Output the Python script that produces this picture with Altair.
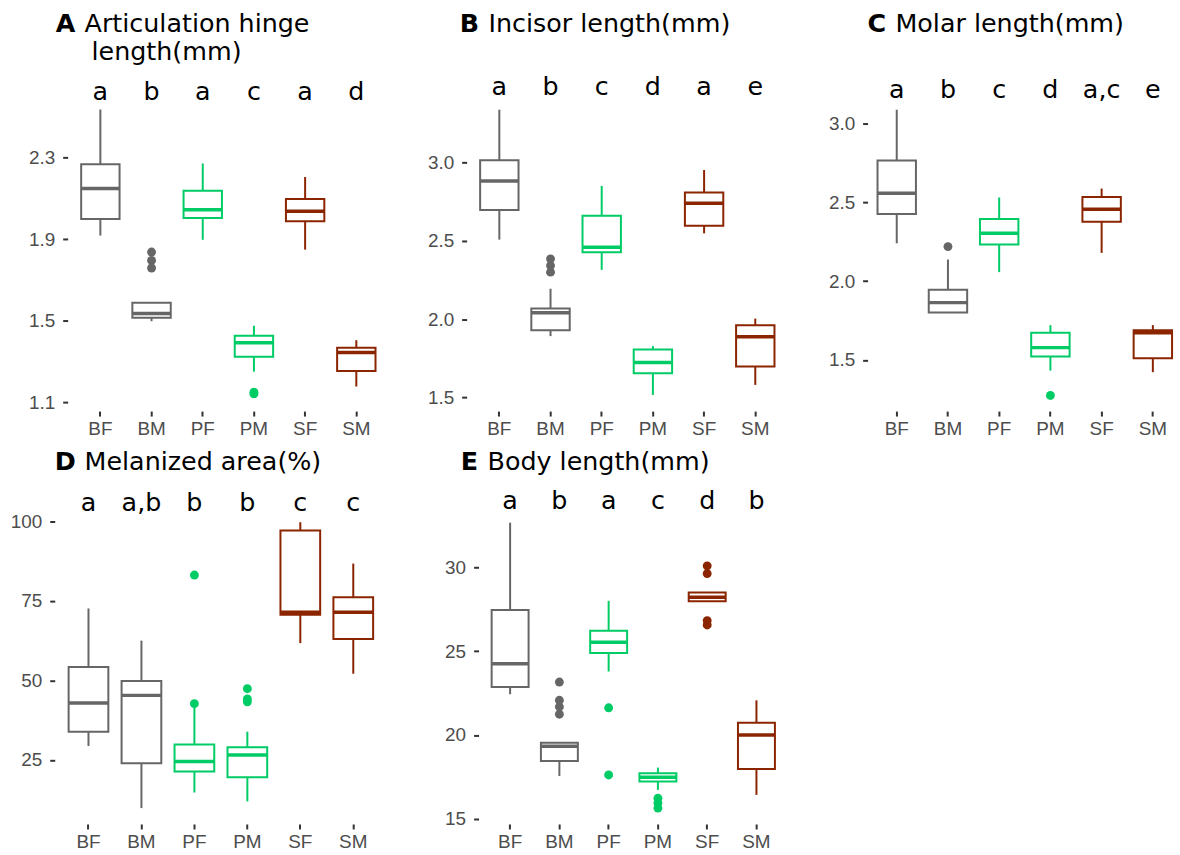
import altair as alt
import pandas as pd

cats = ["BF", "BM", "PF", "PM", "SF", "SM"]
colors = ["#666666", "#666666", "#00CC66", "#00CC66", "#8B2500", "#8B2500"]

# ---- Panel A: Articulation hinge length (mm)
a_q1 = [1.999, 1.515, 2.004, 1.324, 1.988, 1.254]
a_med = [2.149, 1.536, 2.044, 1.393, 2.037, 1.345]
a_q3 = [2.267, 1.588, 2.137, 1.427, 2.097, 1.368]
a_lo = [1.918, 1.498, 1.897, 1.251, 1.849, 1.178]
a_hi = [2.536, 1.588, 2.271, 1.476, 2.205, 1.405]
a_out_cat = ["BM", "BM", "BM", "PM", "PM"]
a_out_val = [1.837, 1.796, 1.759, 1.142, 1.150]
a_letters = ["a", "b", "a", "c", "a", "d"]
a_ticks = [1.1, 1.5, 1.9, 2.3]

# ---- Panel B: Incisor length (mm)
b_q1 = [2.697, 1.929, 2.427, 1.653, 2.597, 1.696]
b_med = [2.883, 2.041, 2.459, 1.723, 2.741, 1.887]
b_q3 = [3.015, 2.067, 2.660, 1.806, 2.809, 1.961]
b_lo = [2.508, 1.891, 2.315, 1.515, 2.548, 1.579]
b_hi = [3.339, 2.194, 2.851, 1.827, 2.953, 2.003]
b_out_cat = ["BM", "BM", "BM"]
b_out_val = [2.385, 2.342, 2.300]
b_letters = ["a", "b", "c", "d", "a", "e"]
b_ticks = [1.5, 2.0, 2.5, 3.0]

# ---- Panel C: Molar length (mm)
c_q1 = [2.427, 1.801, 2.233, 1.521, 2.378, 1.510]
c_med = [2.559, 1.864, 2.305, 1.578, 2.458, 1.673]
c_q3 = [2.768, 1.946, 2.395, 1.672, 2.536, 1.689]
c_lo = [2.241, 1.800, 2.058, 1.432, 2.180, 1.422]
c_hi = [3.090, 2.138, 2.532, 1.721, 2.589, 1.721]
c_out_cat = ["BM", "PM"]
c_out_val = [2.220, 1.274]
c_letters = ["a", "b", "c", "d", "a,c", "e"]
c_ticks = [1.5, 2.0, 2.5, 3.0]

# ---- Panel D: Melanized area (%)
d_q1 = [33.9, 24.0, 21.4, 19.6, 70.6, 63.0]
d_med = [42.9, 45.3, 24.5, 26.6, 71.4, 71.4]
d_q3 = [54.2, 49.8, 29.9, 29.0, 97.1, 76.1]
d_lo = [29.4, 9.9, 14.8, 12.0, 61.7, 52.1]
d_hi = [72.6, 62.5, 42.0, 33.9, 99.7, 86.7]
d_out_cat = ["PF", "PF", "PM", "PM", "PM"]
d_out_val = [83.1, 42.7, 47.4, 44.2, 43.3]
d_letters = ["a", "a,b", "b", "b", "c", "c"]
d_ticks = [25, 50, 75, 100]

# ---- Panel E: Body length (mm)
e_q1 = [22.87, 18.44, 24.90, 17.22, 27.98, 17.97]
e_med = [24.25, 19.33, 25.54, 17.47, 28.22, 19.99]
e_q3 = [27.46, 19.54, 26.23, 17.71, 28.51, 20.73]
e_lo = [22.43, 17.55, 23.79, 16.72, 27.98, 16.42]
e_hi = [32.68, 19.54, 28.01, 18.05, 28.51, 22.07]
e_out_cat = ["BM", "BM", "BM", "BM", "PF", "PF", "PM", "PM", "PM", "SF", "SF", "SF", "SF"]
e_out_val = [23.16, 22.07, 21.68, 21.24, 21.62, 17.61, 16.22, 15.93, 15.63, 30.10, 29.64, 26.83, 26.57]
e_letters = ["a", "b", "a", "c", "d", "b"]
e_ticks = [15, 20, 25, 30]

TXT_FONT = "DejaVu Sans"
AX_FONT = "Liberation Sans"
H = 337
TFS = 25.5
LFS = 19


def panel(q1, med, q3, lo, hi, out_cat, out_val, letters, letter_y, domain, ticks, fmt,
          width, po, minext, tag, title1, title2, tag_dx, title_dx, title_dy):
    df = pd.DataFrame({"g": cats, "q1": q1, "med": med, "q3": q3, "lo": lo, "hi": hi,
                       "lab": letters, "ly": [letter_y] * len(cats)})
    odf = pd.DataFrame({"g": out_cat, "v": out_val})
    step = width / (len(cats) + 2 * po)
    bw = 0.75 * step

    xaxis = alt.Axis(title=None, labelAngle=0, domain=False, grid=False, ticks=True,
                     tickSize=5, tickWidth=2, tickColor="#333333", labelFont=AX_FONT,
                     labelFontSize=LFS, labelColor="#4D4D4D", labelPadding=4, offset=1)
    xenc = alt.X("g:N", sort=cats,
                 scale=alt.Scale(type="band", domain=cats, paddingInner=0, paddingOuter=po),
                 axis=xaxis)
    yscale = alt.Scale(domain=domain, nice=False, zero=False)
    yaxis = alt.Axis(title=None, values=ticks, format=fmt, minExtent=minext, grid=False,
                     domain=False, ticks=True, tickSize=5, tickWidth=2, tickColor="#333333",
                     labelFont=AX_FONT, labelFontSize=LFS, labelColor="#4D4D4D",
                     labelPadding=8, offset=2)
    cscale = alt.Scale(domain=cats, range=colors)
    col = alt.Color("g:N", scale=cscale, legend=None)

    base = alt.Chart(df)
    whisk = base.mark_rule(strokeWidth=2).encode(
        x=xenc, y=alt.Y("lo:Q", scale=yscale, axis=yaxis), y2="hi:Q", color=col)
    box = base.mark_bar(width=bw, fill="white", strokeWidth=2).encode(
        x=xenc, y=alt.Y("q1:Q", scale=yscale, axis=yaxis), y2="q3:Q",
        stroke=alt.Stroke("g:N", scale=cscale, legend=None))
    medl = base.mark_tick(thickness=3.5, size=bw, opacity=1).encode(
        x=xenc, y=alt.Y("med:Q", scale=yscale, axis=yaxis), color=col)
    outl = alt.Chart(odf).mark_circle(size=80, opacity=1).encode(
        x=xenc, y=alt.Y("v:Q", scale=yscale, axis=yaxis), color=col)
    lets = base.mark_text(font=TXT_FONT, fontSize=TFS, color="black", baseline="alphabetic").encode(
        x=xenc, y=alt.Y("ly:Q", scale=yscale, axis=yaxis), text="lab:N")
    tagt = alt.Chart(pd.DataFrame({"t": [tag]})).mark_text(
        font=TXT_FONT, fontSize=TFS, fontWeight="bold", color="black", align="left",
        baseline="alphabetic").encode(x=alt.value(tag_dx), y=alt.value(title_dy), text="t:N")
    layers = [whisk, box, medl, outl, lets, tagt]
    layers.append(alt.Chart(pd.DataFrame({"t": [title1]})).mark_text(
        font=TXT_FONT, fontSize=TFS, color="black", align="left", baseline="alphabetic").encode(
        x=alt.value(title_dx), y=alt.value(title_dy), text="t:N"))
    if title2:
        layers.append(alt.Chart(pd.DataFrame({"t": [title2]})).mark_text(
            font=TXT_FONT, fontSize=TFS, color="black", align="left", baseline="alphabetic").encode(
            x=alt.value(title_dx + 7), y=alt.value(title_dy + 28), text="t:N"))
    return alt.layer(*layers).properties(width=width, height=H)


def blank():
    return alt.Chart(pd.DataFrame({"z": [0]})).mark_rule(opacity=0, strokeWidth=0).encode(
        x=alt.value(0), y=alt.value(0), y2=alt.value(1)).properties(width=1, height=1)


pA = panel(a_q1, a_med, a_q3, a_lo, a_hi, a_out_cat, a_out_val, a_letters, 2.584,
           [1.0624, 2.706], a_ticks, ".1f", 319, 0.1, 60, "A",
           "Articulation hinge", "length(mm)", -14, 15, -43)
pB = panel(b_q1, b_med, b_q3, b_lo, b_hi, b_out_cat, b_out_val, b_letters, 3.434,
           [1.418, 3.562], b_ticks, ".1f", 319, 0.1, 80, "B",
           "Incisor length(mm)", None, -9, 20, -43)
pC = panel(c_q1, c_med, c_q3, c_lo, c_hi, c_out_cat, c_out_val, c_letters, 3.166,
           [1.181, 3.312], c_ticks, ".1f", 312, 0.03, 82, "C",
           "Molar length(mm)", None, -2, 26, -43)
pD = panel(d_q1, d_med, d_q3, d_lo, d_hi, d_out_cat, d_out_val, d_letters, 103.3,
           [5.22, 110.53], d_ticks, "d", 330, 0.1, 47, "D",
           "Melanized area(%)", None, -2, 28, -18)
pE = panel(e_q1, e_med, e_q3, e_lo, e_hi, e_out_cat, e_out_val, e_letters, 33.47,
           [14.74, 34.77], e_ticks, "d", 307, 0.1, 94, "E",
           "Body length(mm)", None, -20, 7, -18)

top = alt.hconcat(blank(), pA, pB, pC, spacing=0)
bottom = alt.hconcat(blank(), pD, pE, spacing=0)
chart = alt.vconcat(top, bottom, spacing=11).properties(
    padding={"left": 7, "top": 10, "right": 0, "bottom": 0},
    background="white",
).configure_view(stroke=None)

chart.save("out.html", embed_options={"renderer": "svg", "actions": False})
